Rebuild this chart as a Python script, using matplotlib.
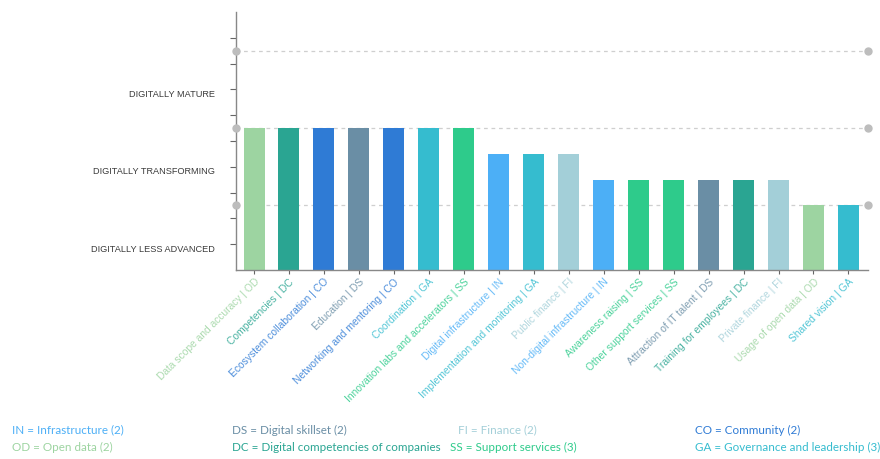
import matplotlib.pyplot as plt
from matplotlib.transforms import blended_transform_factory

# pillar codes and colours
codes = ["OD", "DC", "CO", "DS", "GA", "SS", "IN", "FI"]
code_colors = {
    "OD": "#9dd4a1",
    "DC": "#2aa592",
    "CO": "#2f7bd5",
    "DS": "#6a8ea5",
    "GA": "#35bccf",
    "SS": "#2ecb8b",
    "IN": "#4caff6",
    "FI": "#a3cfd8",
}

factors = [
    "Data scope and accuracy", "Competencies", "Ecosystem collaboration",
    "Education", "Networking and mentoring", "Coordination",
    "Innovation labs and accelerators", "Digital infrastructure",
    "Implementation and monitoring", "Public finance",
    "Non-digital infrastructure", "Awareness raising",
    "Other support services", "Attraction of IT talent",
    "Training for employees", "Private finance", "Usage of open data",
    "Shared vision",
]
factor_codes = [
    "OD", "DC", "CO", "DS", "CO", "GA", "SS", "IN", "GA", "FI",
    "IN", "SS", "SS", "DS", "DC", "FI", "OD", "GA",
]
scores = [5.5, 5.5, 5.5, 5.5, 5.5, 5.5, 5.5, 4.5, 4.5, 4.5,
          3.5, 3.5, 3.5, 3.5, 3.5, 3.5, 2.5, 2.5]

level_names = ["DIGITALLY LESS ADVANCED", "DIGITALLY TRANSFORMING", "DIGITALLY MATURE"]
level_label_pos = [0.8, 3.8, 6.8]
level_bounds = [2.5, 5.5, 8.5]

legend_rows = [
    [("IN = Infrastructure (2)", "IN"), ("DS = Digital skillset (2)", "DS"),
     ("FI = Finance (2)", "FI"), ("CO = Community (2)", "CO")],
    [("OD = Open data (2)", "OD"), ("DC = Digital competencies of companies", "DC"),
     ("SS = Support services (3)", "SS"), ("GA = Governance and leadership (3)", "GA")],
]

plt.rcParams["font.family"] = ["Liberation Sans", "DejaVu Sans"]

fig = plt.figure(figsize=(8.8, 4.59), dpi=100)
ax = fig.add_axes([0.268, 0.412, 0.718, 0.562])

x = list(range(len(factors)))
colors = [code_colors[c] for c in factor_codes]

# level boundaries: dashed lines with dots at both ends
x_left, x_right = -0.52, 17.55
for yb in level_bounds:
    ax.plot([x_left, x_right], [yb, yb], ls=(0, (3, 3)), color="#cfcfcf",
            lw=0.9, zorder=1)
    ax.plot([x_left, x_right], [yb, yb], ls="none", marker="o", ms=5,
            color="#bdbdbd", zorder=4, clip_on=False)

ax.bar(x, scores, width=0.6, color=colors, zorder=2)

ax.set_xlim(x_left, x_right)
ax.set_ylim(0, 10)
ax.set_yticks(range(1, 10))
ax.set_yticklabels([])
ax.tick_params(axis="y", length=4, color="#666666", width=0.8)
ax.tick_params(axis="x", length=3, color="#666666", width=0.8, pad=2)

ax.set_xticks(x)
ax.set_xticklabels([f"{f} | {c}" for f, c in zip(factors, factor_codes)],
                   rotation=45, ha="right", rotation_mode="anchor", fontsize=7.4)
for lbl, c in zip(ax.get_xticklabels(), factor_codes):
    lbl.set_color(code_colors[c])
    lbl.set_alpha(0.85)

for side in ["top", "right"]:
    ax.spines[side].set_visible(False)
for side in ["left", "bottom"]:
    ax.spines[side].set_color("#888888")
    ax.spines[side].set_linewidth(1.0)

# maturity level names on the left
trans = blended_transform_factory(fig.transFigure, ax.transData)
for name, yp in zip(level_names, level_label_pos):
    ax.text(0.244, yp, name, transform=trans, ha="right", va="center",
            fontsize=6.6, color="#3a3a3a")

# code legend at the bottom
col_x = [0.014, 0.264, 0.52, 0.79]
row_y = [0.063, 0.026]
for r, row in enumerate(legend_rows):
    for ci, (txt, c) in enumerate(row):
        xx = col_x[ci]
        if r == 1 and ci == 2:
            xx = 0.511
        fig.text(xx, row_y[r], txt, color=code_colors[c], fontsize=8.4,
                 family=["Lato", "DejaVu Sans"], va="center")

fig.savefig("out.png", dpi=100)
